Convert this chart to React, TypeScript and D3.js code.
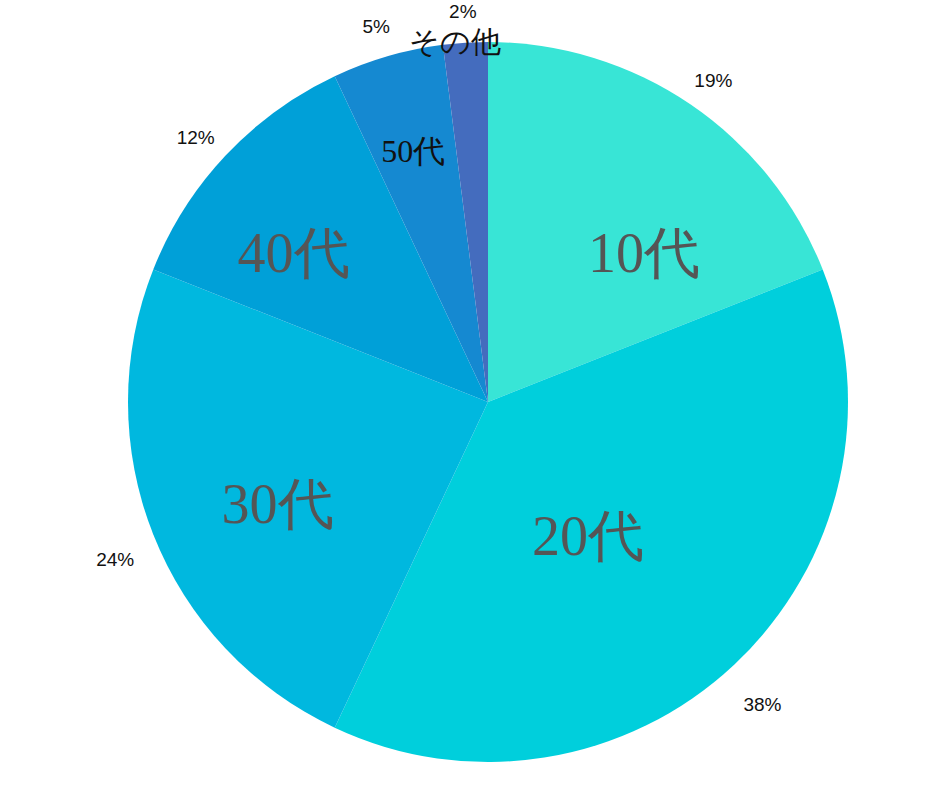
import React from 'react';
import * as d3 from 'd3';

const categories = ['10代', '20代', '30代', '40代', '50代', 'その他'];
const values = [19, 38, 24, 12, 5, 2];
const colors = ['#38E5D6', '#00CFDC', '#00B8DF', '#00A0D8', '#1589D1', '#446CBE'];

const width = 940;
const height = 788;
const cx = 488;
const cy = 402;
const radius = 360;

// label placement / styling per slice (big ones grey, small ones black)
const labelRadius = [0.6, 0.465, 0.65, 0.68, 0.728, 1.005];
const labelShift = [12, 6.5, -4.3, -5.8, -0.4, -1.6]; // degrees
const labelSize = [56, 56, 56, 56, 32, 30];
const labelColor = ['#555', '#555', '#555', '#555', '#111', '#111'];

export default function App() {
  const rows = categories.map((c, i) => ({ name: c, value: values[i], i }));
  const pie = d3.pie<any>().sort(null).value(d => d.value);
  const arcs = pie(rows);
  const arc = d3.arc<any>().innerRadius(0).outerRadius(radius);
  const total = d3.sum(values);

  return (
    <svg width={width} height={height} style={{ position: 'absolute', left: 0, top: 0 }}>
      <g transform={`translate(${cx},${cy})`}>
        {arcs.map((a, i) => (
          <path key={i} d={arc(a) as string} fill={colors[i]} />
        ))}
        {arcs.map((a, i) => {
          const mid = (a.startAngle + a.endAngle) / 2 + (labelShift[i] * Math.PI) / 180;
          const r = radius * labelRadius[i];
          return (
            <text
              key={'l' + i}
              x={Math.sin(mid) * r}
              y={-Math.cos(mid) * r}
              textAnchor="middle"
              dominantBaseline="central"
              fontFamily="'Liberation Serif', serif"
              fontSize={labelSize[i]}
              fill={labelColor[i]}
            >
              {a.data.name}
            </text>
          );
        })}
        {arcs.map((a, i) => {
          const mid = (a.startAngle + a.endAngle) / 2;
          const r = radius + 41;
          return (
            <text
              key={'p' + i}
              x={Math.sin(mid) * r}
              y={-Math.cos(mid) * r + 10}
              textAnchor="middle"
              dominantBaseline="central"
              fontFamily="'Liberation Sans', Arial, sans-serif"
              fontSize={19}
              fill="#111"
            >
              {Math.round((a.data.value / total) * 100)}%
            </text>
          );
        })}
      </g>
    </svg>
  );
}
